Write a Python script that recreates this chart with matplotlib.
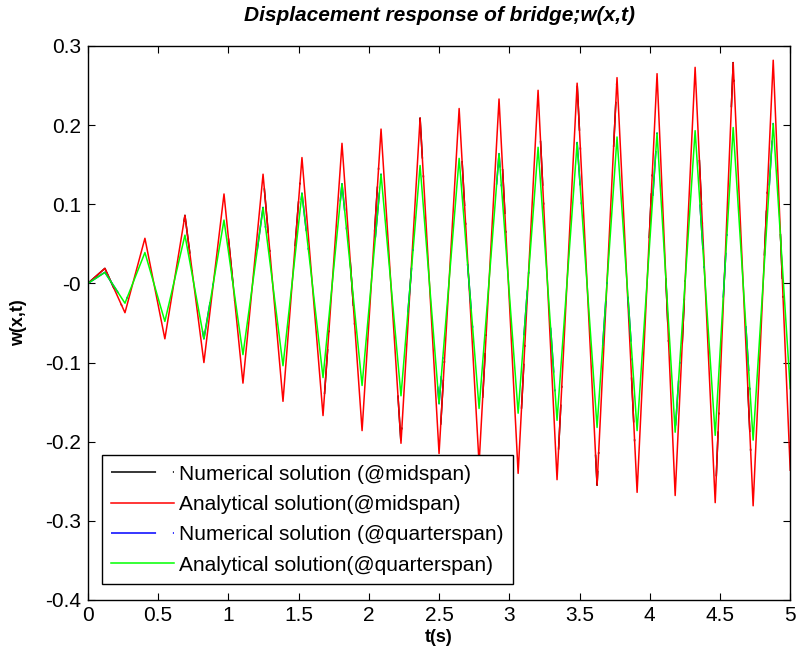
import numpy as np
import matplotlib
matplotlib.use("Agg")
import matplotlib.pyplot as plt
from matplotlib.ticker import FuncFormatter

# times of the peaks / troughs (s)
t_peaks = [0.121, 0.406, 0.691, 0.969, 1.247, 1.524, 1.809, 2.087, 2.365,
           2.643, 2.927, 3.205, 3.483, 3.767, 4.052, 4.323, 4.594, 4.879]
t_troughs = [0.264, 0.548, 0.826, 1.104, 1.389, 1.674, 1.952, 2.229, 2.500,
             2.785, 3.063, 3.340, 3.625, 3.910, 4.181, 4.466, 4.736]
t_end = 5.0

# midspan
mid_peaks = [0.019, 0.057, 0.086, 0.113, 0.138, 0.159, 0.177, 0.195, 0.209,
             0.221, 0.233, 0.244, 0.253, 0.260, 0.265, 0.273, 0.279, 0.282]
mid_troughs = [-0.037, -0.070, -0.100, -0.126, -0.149, -0.167, -0.186, -0.202, -0.215,
               -0.228, -0.240, -0.248, -0.255, -0.264, -0.268, -0.277, -0.281]
mid_end = -0.236

# quarterspan
qtr_peaks = [0.014, 0.039, 0.061, 0.080, 0.096, 0.114, 0.126, 0.138, 0.149,
             0.158, 0.164, 0.172, 0.178, 0.185, 0.190, 0.193, 0.197, 0.202]
qtr_troughs = [-0.025, -0.048, -0.070, -0.090, -0.104, -0.119, -0.129, -0.142, -0.152,
               -0.158, -0.164, -0.173, -0.182, -0.186, -0.188, -0.192, -0.198]
qtr_end = -0.133

labels = ['Numerical solution (@midspan)', 'Analytical solution(@midspan)',
          'Numerical solution (@quarterspan)', 'Analytical solution(@quarterspan)']


def build(peaks, troughs, end):
    t = [0.0]
    w = [0.0]
    for i in range(len(peaks)):
        t.append(t_peaks[i]); w.append(peaks[i])
        if i < len(troughs):
            t.append(t_troughs[i]); w.append(troughs[i])
    t.append(t_end); w.append(end)
    return np.array(t), np.array(w)


t_mid, w_mid = build(mid_peaks, mid_troughs, mid_end)
t_qtr, w_qtr = build(qtr_peaks, qtr_troughs, qtr_end)

plt.rcParams['font.family'] = ['Liberation Sans', 'DejaVu Sans']
plt.rcParams['axes.unicode_minus'] = False

fig = plt.figure(figsize=(7.99, 6.54), dpi=100)
ax = fig.add_axes([0.110, 0.0826, 0.879, 0.8471])

lw = 1.1
dd = (29.5, 11, 1.3, 200)
ax.plot(t_mid, w_mid, color='black', lw=lw, dashes=dd, label=labels[0])
ax.plot(t_mid, w_mid, color='red', lw=lw, label=labels[1])
ax.plot(t_qtr, w_qtr, color='blue', lw=lw, dashes=dd, label=labels[2])
ax.plot(t_qtr, w_qtr, color='#00ff00', lw=lw, label=labels[3])

ax.set_xlim(0, 5)
ax.set_ylim(-0.4, 0.3)
ax.set_xticks(np.arange(0, 5.01, 0.5))
ax.set_yticks(np.arange(-0.4, 0.31, 0.1))
fmt = FuncFormatter(lambda v, p: '%g' % round(v, 2))
ax.xaxis.set_major_formatter(fmt)
ax.yaxis.set_major_formatter(fmt)
ax.tick_params(direction='in', length=5, width=0.8, top=True, right=True, labelsize=15)
ax.tick_params(axis='y', pad=5)
ax.tick_params(axis='x', pad=4)
for s in ax.spines.values():
    s.set_linewidth(1.0)

ax.set_title('Displacement response of bridge;w(x,t)', fontsize=15,
             fontweight='bold', fontstyle='italic', pad=18)
ax.set_xlabel('t(s)', fontsize=13, fontweight='bold', labelpad=3)
ax.set_ylabel('w(x,t)', fontsize=13, fontweight='bold', labelpad=13)

leg = ax.legend(loc='lower left', bbox_to_anchor=(0.02, 0.029), borderaxespad=0,
                fontsize=15, fancybox=False, framealpha=1, edgecolor='black',
                handlelength=3.0, handletextpad=0.25, labelspacing=0.54,
                borderpad=0.45)
leg.get_frame().set_linewidth(1.0)

fig.savefig('out.png', dpi=100)
